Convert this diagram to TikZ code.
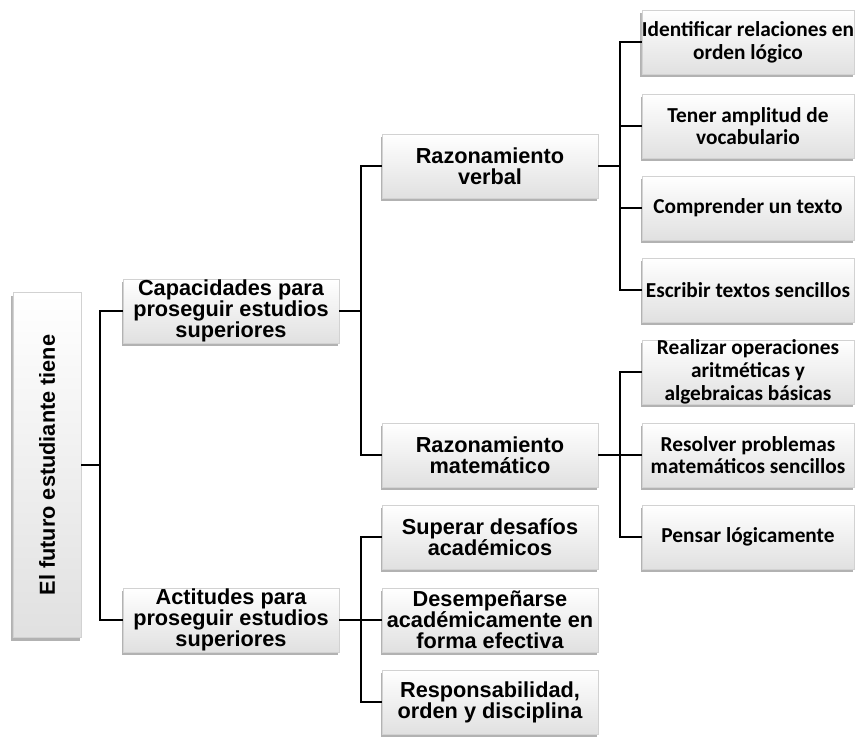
\documentclass[tikz,border=0pt]{standalone}
\usepackage{fontspec}
\setmainfont{Liberation Sans}
\newfontfamily\calibri{Carlito}
\usetikzlibrary{calc, positioning, shadows}

\tikzset{
  caja/.style={draw=gray!35, line width=.6bp, top color=white, bottom color=gray!24,
    drop shadow={shadow xshift=-1.5bp, shadow yshift=-3bp, fill=gray!60, opacity=1},
    align=center, inner sep=0pt, minimum width=216bp, minimum height=64bp,
    font=\bfseries\fontsize{21.8}{21.3}\selectfont},
  cajader/.style={caja, minimum width=212bp, font=\calibri\bfseries\fontsize{21.4}{22.8}\selectfont},
  enlace/.style={line width=1.7bp, black}
}

\begin{document}
\begin{tikzpicture}[x=1bp, y=-1bp]
	    \useasboundingbox (0,0) rectangle (857,738);
	    \node[caja, minimum width=68bp, minimum height=345bp] (A) at (47,465) {\rotatebox{90}{El futuro estudiante tiene}};
	    \node[caja] (B) at (231,311) {Capacidades para\\proseguir estudios\\superiores};
	    \node[caja] (C) at (231,620) {Actitudes para\\proseguir estudios\\superiores};
	    \node[caja] (D) at (490,166) {Razonamiento\\verbal};
	    \node[caja] (E) at (490,455) {Razonamiento\\matemático};
	    \node[caja] (F) at (490,537) {Superar desafíos\\académicos};
	    \node[caja] (G) at (490,620) {Desempeñarse\\académicamente en\\forma efectiva};
	    \node[caja] (H) at (490,702) {Responsabilidad,\\orden y disciplina};
	    \node[cajader] (I) at (748,42) {Identificar relaciones en\\orden lógico};
	    \node[cajader] (J) at (748,126) {Tener amplitud de\\vocabulario};
	    \node[cajader] (K) at (748,208) {Comprender un texto};
	    \node[cajader] (L) at (748,290) {Escribir textos sencillos};
	    \node[cajader] (M) at (748,372) {Realizar operaciones\\aritméticas y\\algebraicas básicas};
	    \node[cajader] (N) at (748,455) {Resolver problemas\\matemáticos sencillos};
	    \node[cajader] (O) at (748,537) {Pensar lógicamente};
	    \coordinate (a) at (100,465);
	    \coordinate (b) at (361,311);
	    \coordinate (c) at (361,620);
	    \coordinate (d) at (620,166);
	    \coordinate (e) at (620,455);
	    \draw[enlace] (A) -- (a) ; \draw[enlace] (B.west) -| (a) |- (C.west) ;
	    \draw[enlace] (B) -- (b) ; \draw[enlace] (D.west) -| (b) |- (E.west) ;
	    \draw[enlace] (C) -- (c) ; \draw[enlace] (F.west) -| (c) |- (H.west) ; \draw[enlace] (c) -- (G) ;
	    \draw[enlace] (D) -- (d) ; \draw[enlace] (I.west) -| (d) |- (L.west) ; \draw[enlace] (d |- J) -- (J) ; \draw[enlace] (d |- K) -- (K) ;
	    \draw[enlace] (E) -- (e) ; \draw[enlace] (M.west) -| (e) |- (O.west) ; \draw[enlace] (e) -- (N) ;
	\end{tikzpicture}
\end{document}
